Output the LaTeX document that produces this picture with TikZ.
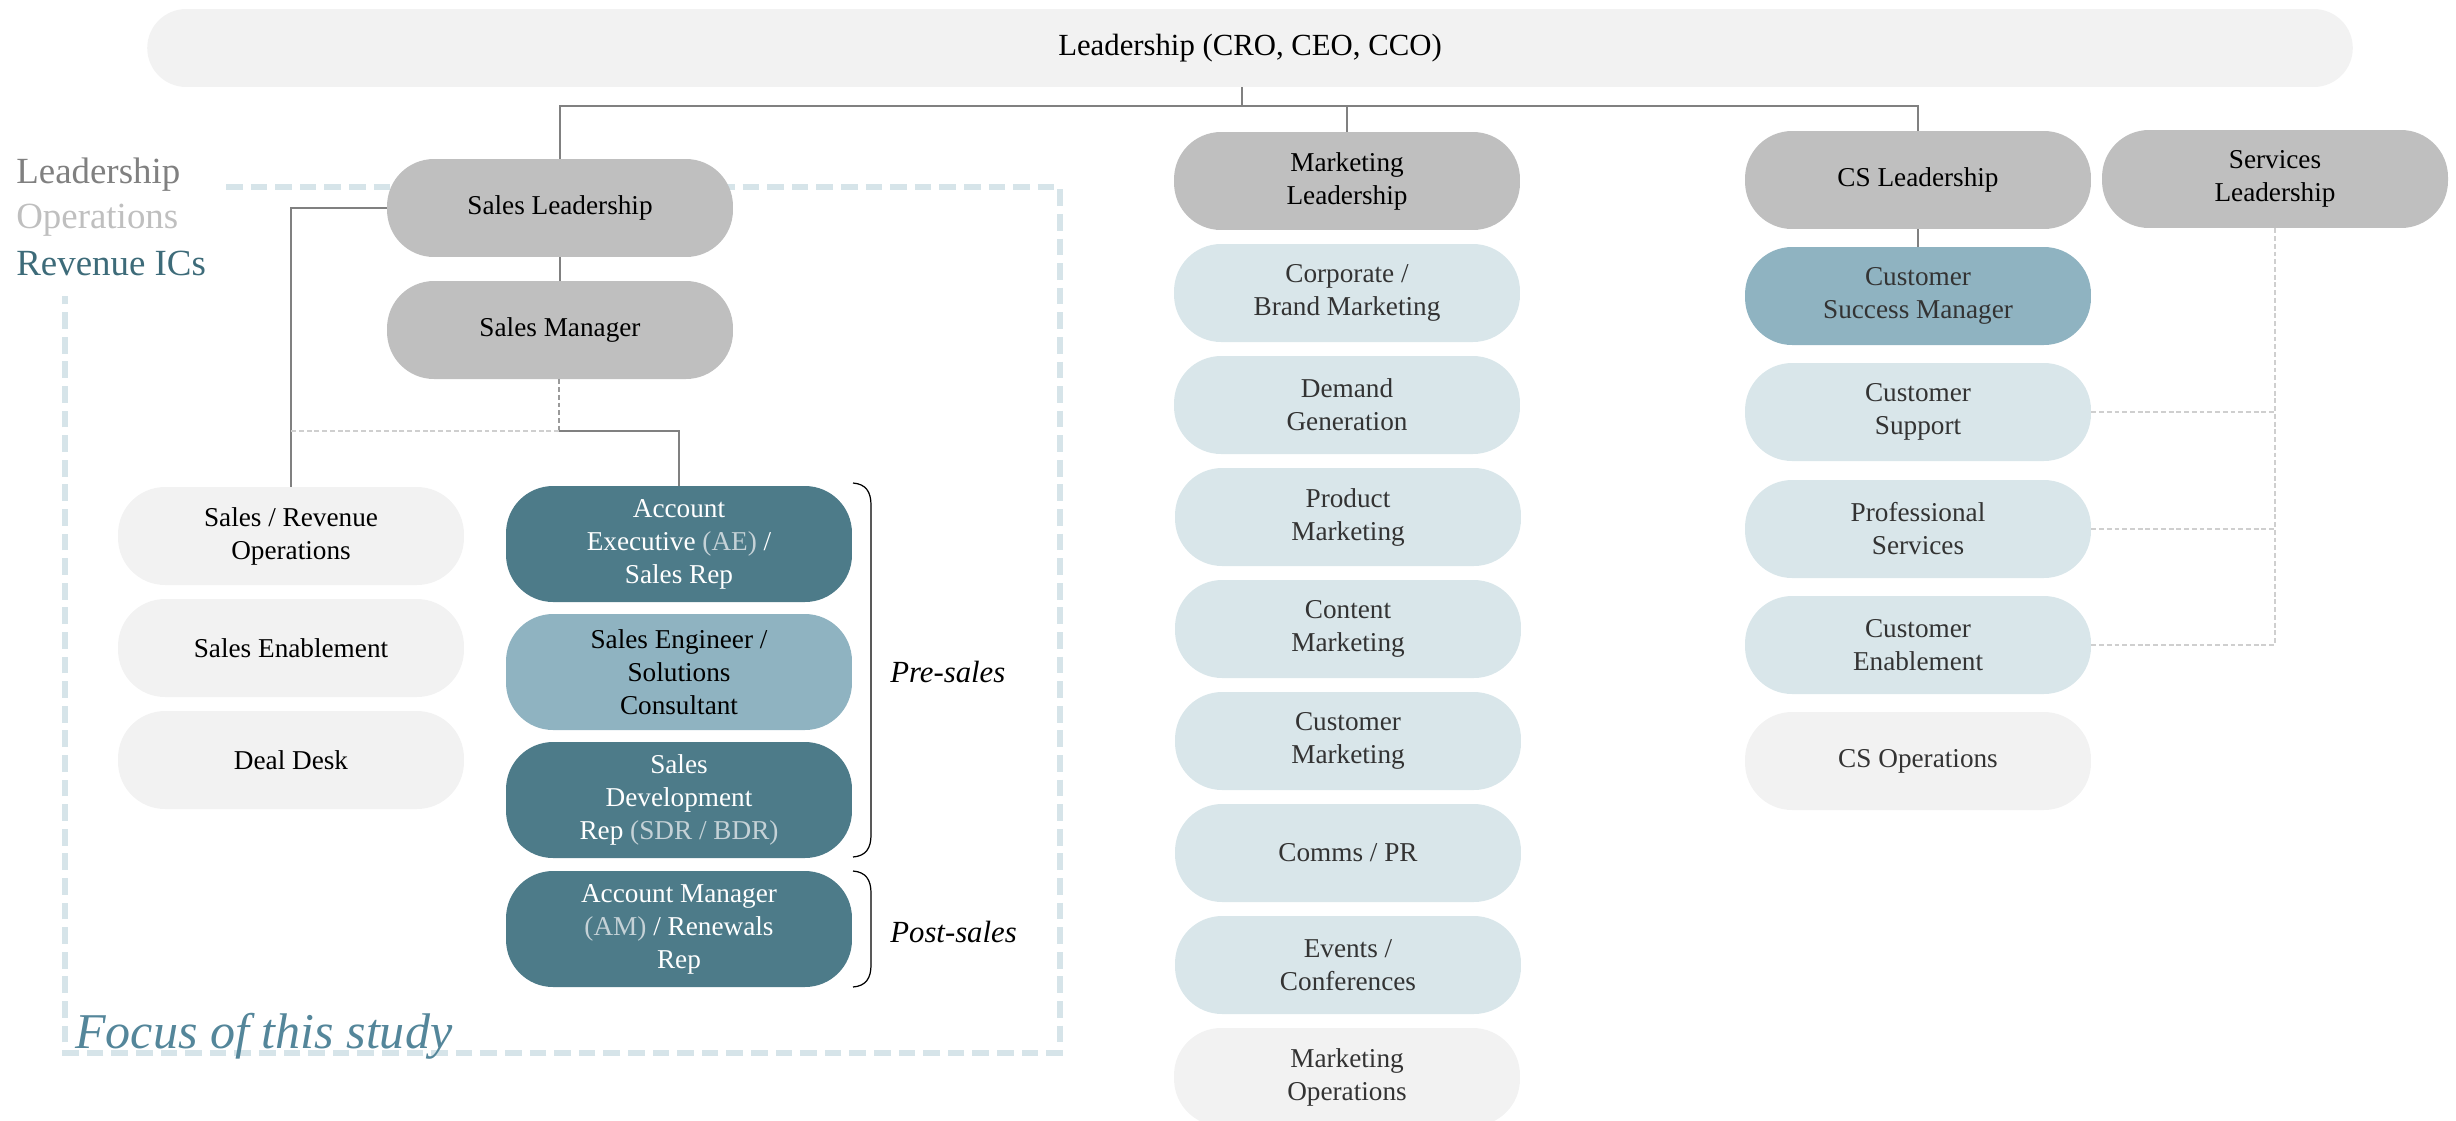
\documentclass[tikz,border=0pt]{standalone}
\usepackage{fontspec}
\setmainfont{Liberation Serif}
\usetikzlibrary{calc}
\definecolor{barc}{HTML}{F2F2F2}
\definecolor{leadc}{HTML}{BFBFBF}
\definecolor{opsc}{HTML}{F2F2F2}
\definecolor{lightc}{HTML}{D9E6EA}
\definecolor{midc}{HTML}{8FB3C1}
\definecolor{darkc}{HTML}{4D7B89}
\definecolor{paren}{HTML}{C5D2D7}
\definecolor{textdk}{HTML}{333333}
\definecolor{linec}{HTML}{808080}
\definecolor{dotc}{HTML}{CFCFCF}
\definecolor{dotdk}{HTML}{9A9A9A}
\definecolor{focusc}{HTML}{D6E4E9}
\definecolor{focustext}{HTML}{54869A}
\definecolor{legA}{HTML}{808080}
\definecolor{legB}{HTML}{BFBFBF}
\definecolor{legC}{HTML}{3D6B79}
\newcommand\myNodeFont{\fontsize{15.5}{18.8}\selectfont}
\newcommand\myPar[1]{\textcolor{paren}{#1}}
\begin{document}
\begin{tikzpicture}[x=0.02cm,y=-0.02cm,
  box/.style={rounded corners=0.94cm, minimum width=6.92cm, minimum height=1.96cm,
    inner sep=0pt, align=center, font=\myNodeFont, text=black},
  tall/.style={minimum height=2.32cm},
  lead/.style={box, fill=leadc},
  ops/.style={box, fill=opsc},
  mkt/.style={box, fill=lightc, text=textdk},
  opsr/.style={box, fill=opsc, text=textdk},
  mid/.style={box, fill=midc},
  dark/.style={box, fill=darkc, text=white},
  conn/.style={draw=linec, line width=0.8pt},
  dotline/.style={draw=dotc, line width=0.8pt, dash pattern=on 2.8pt off 1.6pt},
  legend/.style={anchor=west, font=\fontsize{21}{24}\selectfont, inner sep=0pt},
  sidelabel/.style={anchor=west, font=\fontsize{17.5}{20}\selectfont\itshape, inner sep=0pt},
  bracec/.style={draw=black, line width=0.7pt}
]
\useasboundingbox (0,0) rectangle (2456,1120);

% focus box
\draw[draw=focusc, line width=3.2pt, dash pattern=on 9.5pt off 4.5pt]
  (226,187) -- (1060,187) -- (1060,1053) -- (65,1053) -- (65,296);
\node[anchor=base west, inner sep=0pt, text=focustext,
  font=\fontsize{28.5}{31}\selectfont\itshape] (focus) at (75,1048) {Focus of this study};

% legend
\node[legend, text=legA] (legl) at (16,175) {Leadership};
\node[legend, text=legB] (lego) at (16,220) {Operations};
\node[legend, text=legC] (legr) at (16,263) {Revenue ICs};

% top bar
\node[box, fill=barc, minimum width=44.12cm, minimum height=1.56cm, rounded corners=0.78cm,
  font=\fontsize{17.5}{20}\selectfont] (top) at (1250,48) {Leadership (CRO, CEO, CCO)};

% sales
\node[lead] (sl) at (560,208) {Sales Leadership};
\node[lead] (sm) at (560,330) {Sales Manager};
\node[ops] (sro) at (291,536) {Sales / Revenue\\Operations};
\node[ops] (sen) at (291,648) {Sales Enablement};
\node[ops] (dd) at (291,760) {Deal Desk};
\node[dark, tall] (ae) at (679,544) {Account\\Executive \myPar{(AE)} /\\Sales Rep};
\node[mid, tall] (se) at (679,672) {Sales Engineer /\\Solutions\\Consultant};
\node[dark, tall] (sdr) at (679,800) {Sales\\Development\\Rep \myPar{(SDR / BDR)}};
\node[dark, tall] (am) at (679,929) {Account Manager\\\myPar{(AM)} / Renewals\\Rep};

% marketing
\node[lead] (ml) at (1347,181) {Marketing\\Leadership};
\node[mkt] (cbm) at (1347,293) {Corporate /\\Brand Marketing};
\node[mkt] (dg) at (1347,405) {Demand\\Generation};
\node[mkt] (pm) at (1348,517) {Product\\Marketing};
\node[mkt] (cm) at (1348,629) {Content\\Marketing};
\node[mkt] (cum) at (1348,741) {Customer\\Marketing};
\node[mkt] (cpr) at (1348,853) {Comms / PR};
\node[mkt] (ev) at (1348,965) {Events /\\Conferences};
\node[opsr] (mo) at (1347,1077) {Marketing\\Operations};

% customer success
\node[lead] (csl) at (1918,180) {CS Leadership};
\node[mid, text=textdk] (csm) at (1918,296) {Customer\\Success Manager};
\node[mkt] (csup) at (1918,412) {Customer\\Support};
\node[mkt] (ps) at (1918,529) {Professional\\Services};
\node[mkt] (ce) at (1918,645) {Customer\\Enablement};
\node[opsr] (cso) at (1918,761) {CS Operations};
\node[lead] (svc) at (2275,179) {Services\\Leadership};

% connectors
\coordinate (j0) at (1242,106);
\draw[conn] (top.south -| j0) -- (j0);
\draw[conn] (sl.north) |- (j0) -| (csl.north);
\draw[conn] (ml.north) -- (ml.north |- j0);
\draw[conn] (sl) -- (sm);
\draw[conn] (sl.west) -| (sro.north);
\coordinate (j1) at (559,431);
\draw[draw=dotdk, line width=0.8pt, dash pattern=on 2.8pt off 1.6pt] (sm.south -| j1) -- (j1);
\draw[conn] (j1) -| (ae.north);
\draw[dotline] (j1) -- (j1 -| sro.north);
\draw[conn] (csl) -- (csm);
\draw[dotline] (svc.south) -- (svc.south |- ce.east);
\draw[dotline] (csup.east) -- (csup.east -| svc.south);
\draw[dotline] (ps.east) -- (ps.east -| svc.south);
\draw[dotline] (ce.east) -- (ce.east -| svc.south);

% braces
\draw[bracec] (853,483) .. controls (866,484) and (871,492) .. (871,505) -- (871,835)
  .. controls (871,848) and (866,856) .. (853,857);
\draw[bracec] (853,871) .. controls (866,872) and (871,880) .. (871,893) -- (871,965)
  .. controls (871,978) and (866,986) .. (853,987);
\node[sidelabel] (pre) at (890,672) {Pre-sales};
\node[sidelabel] (post) at (890,932) {Post-sales};
\end{tikzpicture}
\end{document}
